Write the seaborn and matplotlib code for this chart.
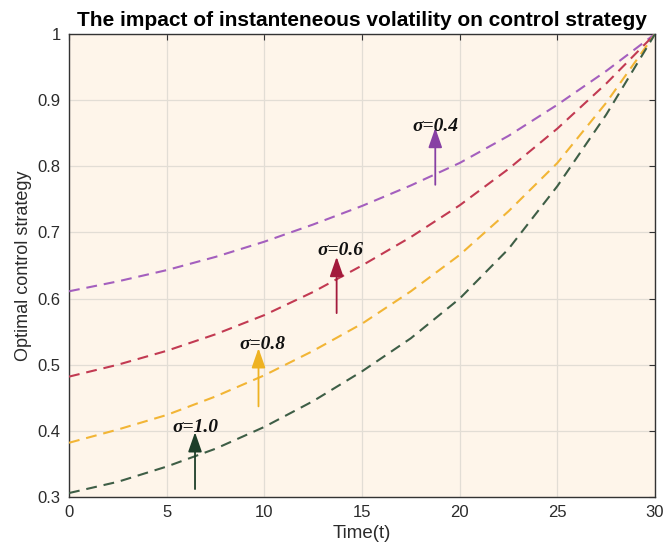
import numpy as np
import pandas as pd
import matplotlib
matplotlib.use("Agg")
import matplotlib.pyplot as plt
import seaborn as sns

# values
t = [0, 2.5, 5, 7.5, 10, 12.5, 15, 17.5, 20, 22.5, 25, 27.5, 30]
u_04 = [0.611, 0.626, 0.643, 0.663, 0.686, 0.712, 0.740, 0.771, 0.805, 0.846, 0.893, 0.944, 1.0]
u_06 = [0.482, 0.500, 0.521, 0.546, 0.575, 0.610, 0.650, 0.693, 0.741, 0.796, 0.857, 0.925, 1.0]
u_08 = [0.382, 0.402, 0.424, 0.452, 0.484, 0.521, 0.562, 0.611, 0.666, 0.732, 0.805, 0.896, 1.0]
u_10 = [0.306, 0.323, 0.346, 0.373, 0.406, 0.445, 0.490, 0.540, 0.600, 0.675, 0.770, 0.878, 1.0]

labels = ["σ=0.4", "σ=0.6", "σ=0.8", "σ=1.0"]
line_colors = ["#A45FBE", "#C23A52", "#F2B535", "#3E5E46"]
arrow_colors = ["#8740A4", "#A31A3C", "#EEB222", "#1E3F2A"]
# arrow x, tail y, head y, text x, text y
arr_x = [18.75, 13.7, 9.7, 6.45]
arr_tail = [0.772, 0.578, 0.437, 0.312]
arr_head = [0.858, 0.663, 0.525, 0.398]
txt_x = [18.75, 13.9, 9.9, 6.45]
txt_y = [0.860, 0.672, 0.530, 0.405]

df = pd.DataFrame({"t": t, "0.4": u_04, "0.6": u_06, "0.8": u_08, "1.0": u_10})

sns.set_theme(style="white")
plt.rcParams["font.family"] = ["Liberation Sans", "DejaVu Sans"]

fig = plt.figure(figsize=(6.65, 5.57), dpi=100)
ax = fig.add_axes([0.1038, 0.1077, 0.8812, 0.8313])
ax.set_facecolor("#FEF5EA")

for col, c in zip(["0.4", "0.6", "0.8", "1.0"], line_colors):
    sns.lineplot(data=df, x="t", y=col, ax=ax, color=c, linewidth=1.5,
                 linestyle=(0, (5.2, 3.3)), zorder=3)

for i in range(4):
    ax.annotate("", xy=(arr_x[i], arr_head[i]), xytext=(arr_x[i], arr_tail[i]),
                arrowprops=dict(arrowstyle="-|>,head_length=1.0,head_width=0.35",
                                color=arrow_colors[i], lw=1.3, shrinkA=0, shrinkB=0),
                zorder=4)
    ax.text(txt_x[i], txt_y[i], labels[i], ha="center", va="center",
            family=["Liberation Serif", "DejaVu Serif"], fontsize=14,
            fontweight="bold", fontstyle="italic", color="#111111", zorder=5)

ax.set_xlim(0, 30)
ax.set_ylim(0.3, 1.0)
ax.set_xticks([0, 5, 10, 15, 20, 25, 30])
ax.set_yticks([0.3, 0.4, 0.5, 0.6, 0.7, 0.8, 0.9, 1.0])
ax.set_yticklabels(["0.3", "0.4", "0.5", "0.6", "0.7", "0.8", "0.9", "1"])
ax.grid(True, color="#E2DDD5", linewidth=0.9)
ax.set_axisbelow(True)
ax.tick_params(direction="in", top=True, right=True, length=4, width=0.8,
               color="#333333", labelsize=12, labelcolor="#2B2B2B", pad=6)
for s in ax.spines.values():
    s.set_color("#333333")
    s.set_linewidth(1.0)

ax.set_xlabel("Time(t)", fontsize=13.5, color="#2B2B2B", labelpad=3)
ax.set_ylabel("Optimal control strategy", fontsize=13, color="#2B2B2B", labelpad=4)
ax.set_title("The impact of instanteneous volatility on control strategy",
             fontsize=15, fontweight="bold", color="black", pad=6)

fig.savefig("out.png", dpi=100)
